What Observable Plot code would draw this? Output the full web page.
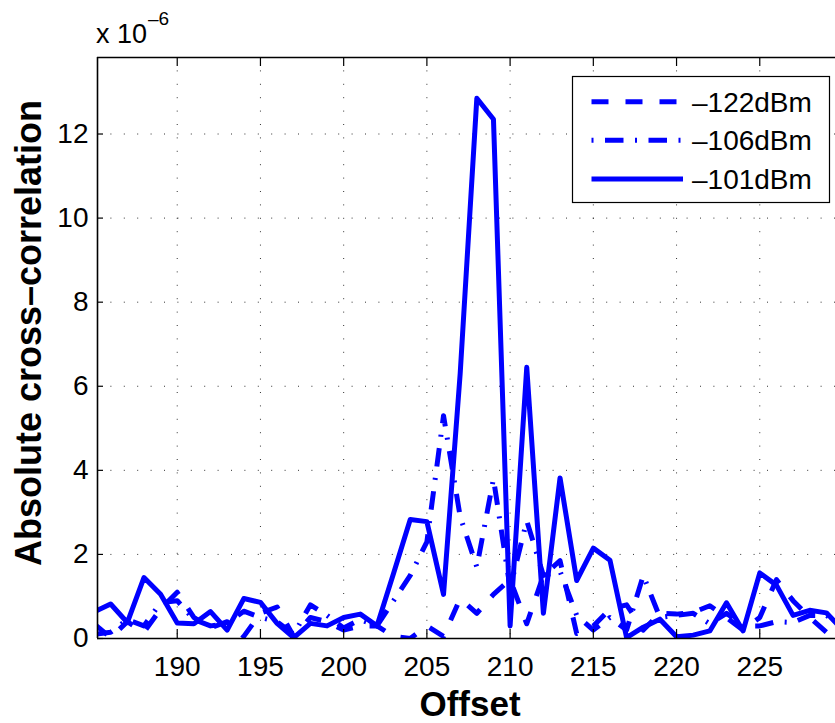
<!DOCTYPE html>
<html><head><meta charset="utf-8">
<script src="https://cdn.jsdelivr.net/npm/d3@7"></script>
<script src="https://cdn.jsdelivr.net/npm/@observablehq/plot@0.6"></script>
<style>
body{margin:0;background:#fff;}
#chart{position:relative;width:835px;height:723px;overflow:hidden;}
</style></head><body><div id="chart"></div>
<script>
const offsets = [185,186,187,188,189,190,191,192,193,194,195,196,197,198,199,200,201,202,203,204,205,206,207,208,209,210,211,212,213,214,215,216,217,218,219,220,221,222,223,224,225,226,227,228,229,230];
const levels = ["–122dBm","–106dBm","–101dBm"];
const v122 = [0.35,0.02,0.4,0.15,0.7,1.1,0.5,0.25,0.4,0.05,
              0.6,0.75,0.05,0.5,0.4,0.2,0.3,0.3,0.05,0.0,
              0.3,0.05,0.95,0.6,1.05,1.4,0.35,1.5,1.85,0.12,
              0.3,0.7,0.8,0.2,0.6,0.58,0.62,0.78,0.5,0.2,
              0.5,1.4,0.9,0.5,0.15,0.12];
const v106 = [0.1,0.15,0.45,0.3,0.85,0.9,0.45,0.3,0.35,0.65,
              0.5,0.4,0.1,0.8,0.55,0.25,0.45,0.3,0.9,1.5,
              2.3,5.3,2.9,1.7,3.8,1.2,2.8,1.5,1.6,0.55,
              0.2,0.5,0.2,1.5,0.5,0.55,0.6,0.35,0.6,0.3,
              0.3,0.4,0.38,0.55,0.55,0.3];
const v101 = [0.63,0.82,0.38,1.45,1.05,0.37,0.35,0.64,0.2,0.95,
              0.86,0.36,0.02,0.36,0.3,0.5,0.58,0.3,1.55,2.83,
              2.78,1.05,6.3,12.85,12.35,0.3,6.45,0.6,3.82,1.38,
              2.15,1.86,0.02,0.27,0.46,0.04,0.08,0.18,0.85,0.18,
              1.56,1.27,0.55,0.67,0.61,0.2];
const xTicks = [190,195,200,205,210,215,220,225];
const yTicks = [0,2,4,6,8,10,12];
const xDomain = [185.21, 229.55];
const yDomain = [0, 13.82];

const FONT = '"Liberation Sans", Arial, Helvetica, sans-serif';
const W = 835, H = 723, mL = 97, mR = 0, mT = 57, mB = 85;
const innerW = W - mL - mR, innerH = H - mT - mB;
const series = [v122, v106, v101];
const dashes = ["17,17", "18.5,11.5,2,11.5", null];
const rows = [];
levels.forEach((lv, i) => offsets.forEach((x, j) => rows.push({level: lv, x, y: series[i][j]})));

const blue = "#0000ff";
const LW = 5;
const plot = Plot.plot({
  width: W, height: H,
  marginLeft: mL, marginRight: mR, marginTop: mT, marginBottom: mB,
  style: {fontFamily: FONT, fontSize: "28px", color: "#000", background: "#fff", overflow: "visible"},
  x: {domain: xDomain, label: null},
  y: {domain: yDomain, label: null},
  marks: [
    Plot.ruleX(xTicks, {x: d => d, stroke: "#000", strokeOpacity: 0.8, strokeDasharray: "1,12.4"}),
    Plot.ruleY(yTicks.filter(d => d > 0), {y: d => d, stroke: "#000", strokeOpacity: 0.8, strokeDasharray: "1,12.4"}),
    ...levels.map((lv, i) => Plot.line(rows.filter(r => r.level === lv), {
      x: "x", y: "y", stroke: blue, strokeWidth: LW,
      strokeDasharray: dashes[i], strokeLinejoin: "round", strokeLinecap: "butt", clip: true
    })),
    Plot.tickX(xTicks, {x: d => d, insetTop: innerH - 9, stroke: "#000", strokeWidth: 1.2}),
    Plot.tickX(xTicks, {x: d => d, insetBottom: innerH - 9, stroke: "#000", strokeWidth: 1.2}),
    Plot.tickY(yTicks, {y: d => d, insetRight: innerW - 6, stroke: "#000", strokeWidth: 1.2}),
    Plot.ruleY([yDomain[0]], {stroke: "#000", strokeWidth: 1.6}),
    Plot.ruleY([yDomain[1]], {stroke: "#000", strokeWidth: 1.6}),
    Plot.ruleX([xDomain[0]], {stroke: "#000", strokeWidth: 1.6}),
    Plot.axisX(xTicks, {tickSize: 0, tickPadding: 18, fontSize: 28, label: null}),
    Plot.axisY(yTicks, {tickSize: 0, tickPadding: 9, fontSize: 28, label: null})
  ]
});
document.getElementById("chart").appendChild(plot);

const svg = d3.select(plot);
// axis titles
svg.append("text").attr("x", 470).attr("y", 716).attr("text-anchor", "middle")
  .attr("font-family", FONT).attr("font-weight", "bold").attr("font-size", 35).attr("fill", "#000").text("Offset");
svg.append("text").attr("transform", "translate(41,333) rotate(-90)").attr("text-anchor", "middle")
  .attr("font-family", FONT).attr("font-weight", "bold").attr("font-size", 36).attr("fill", "#000").text("Absolute cross–correlation");
// exponent
svg.append("text").attr("x", 96).attr("y", 43).attr("text-anchor", "start").attr("font-family", FONT)
  .attr("font-size", 27).attr("fill", "#000").text("x 10");
svg.append("text").attr("x", 148).attr("y", 25).attr("text-anchor", "start").attr("font-family", FONT)
  .attr("font-size", 19).attr("fill", "#000").text("–6");

// legend
const lg = svg.append("g");
lg.append("rect").attr("x", 572.5).attr("y", 76.5).attr("width", 257).attr("height", 126)
  .attr("fill", "#fff").attr("stroke", "#000").attr("stroke-width", 1.2);
const legendDashes = ["17,17", "2,11.5,18.5,11.5", null];
const rowsY = [101.7, 140.3, 179];
levels.forEach((lv, i) => {
  lg.append("line").attr("x1", 591.5).attr("x2", 683).attr("y1", rowsY[i]).attr("y2", rowsY[i])
    .attr("stroke", blue).attr("stroke-width", LW).attr("stroke-dasharray", legendDashes[i]);
  lg.append("text").attr("x", 692).attr("y", rowsY[i] + 10).attr("text-anchor", "start").attr("font-family", FONT)
    .attr("font-size", 28).attr("fill", "#000").text(lv);
});
</script>
</body></html>
